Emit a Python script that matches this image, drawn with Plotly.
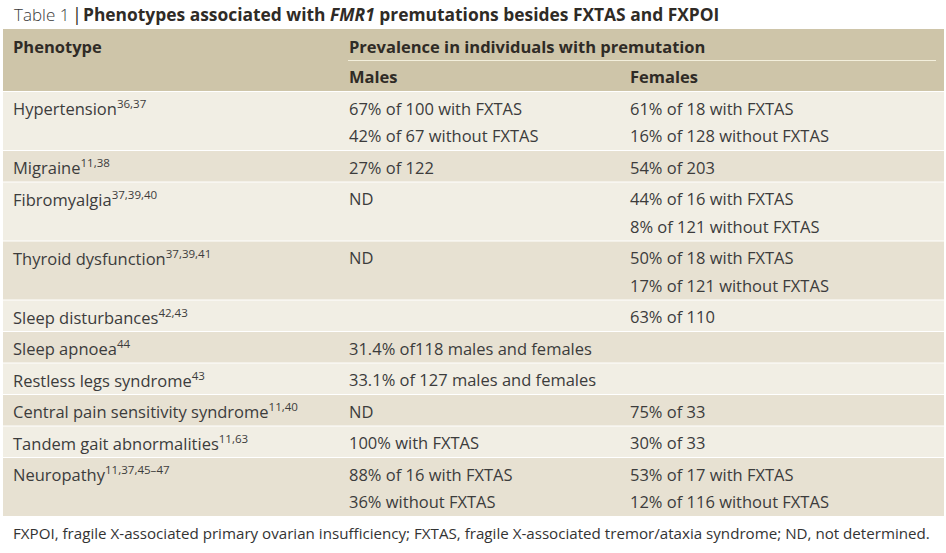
import plotly.graph_objects as go

# ---- data ----
title_prefix = "Table 1"
title_main = "Phenotypes associated with <i>FMR1</i> premutations besides FXTAS and FXPOI"
header_col1 = "Phenotype"
header_group = "Prevalence in individuals with premutation"
header_males = "Males"
header_females = "Females"

phenotypes = ["Hypertension", "Migraine", "Fibromyalgia", "Thyroid dysfunction",
              "Sleep disturbances", "Sleep apnoea", "Restless legs syndrome",
              "Central pain sensitivity syndrome", "Tandem gait abnormalities",
              "Neuropathy"]
refs = ["36,37", "11,38", "37,39,40", "37,39,41", "42,43", "44", "43",
        "11,40", "11,63", "11,37,45–47"]
males = [["67% of 100 with FXTAS", "42% of 67 without FXTAS"],
         ["27% of 122"],
         ["ND"],
         ["ND"],
         [""],
         ["31.4% of118 males and females"],
         ["33.1% of 127 males and females"],
         ["ND"],
         ["100% with FXTAS"],
         ["88% of 16 with FXTAS", "36% without FXTAS"]]
females = [["61% of 18 with FXTAS", "16% of 128 without FXTAS"],
           ["54% of 203"],
           ["44% of 16 with FXTAS", "8% of 121 without FXTAS"],
           ["50% of 18 with FXTAS", "17% of 121 without FXTAS"],
           ["63% of 110"],
           [""],
           [""],
           ["75% of 33"],
           ["30% of 33"],
           ["53% of 17 with FXTAS", "12% of 116 without FXTAS"]]
footnote = ("FXPOI, fragile X-associated primary ovarian insufficiency; FXTAS, fragile "
            "X-associated tremor/ataxia syndrome; ND, not determined.")

# ---- style ----
W, H = 946, 553
BODY_FONT = "Open Sans"
HEAD_FONT = "Open Sans"
TEXT_COLOR = "#3c3c3c"
HEAD_COLOR = "#2f2b26"
HEADER_FILL = "#cec5a9"
HEADER_LINE = "#f3efdc"
LIGHT_FILL = "#f1eee4"
DARK_FILL = "#e7e1d2"
TABLE_L, TABLE_R = 3, 944
COL_X = [11, 347, 628]
HEADER_TOP, HEADER_MID, HEADER_BOT = 29, 60, 91
ROW_TOP0 = 92
LINE_H = 27.5
PAD = 4
BODY_SIZE = 16.5
HEAD_SIZE = 16.5

shapes = []
annotations = []

def text(x, y, s, size=BODY_SIZE, color=TEXT_COLOR, family=BODY_FONT, weight=None):
    f = dict(size=size, color=color, family=family)
    if weight:
        f["weight"] = weight
    annotations.append(dict(x=x, y=y, xref="x", yref="y", text=s, showarrow=False,
                            xanchor="left", yanchor="middle", align="left", font=f))

# title
text(12, 14, title_prefix, size=17, color="#3a3a3a", weight=300)
text(70, 14, "|", size=18, color="#2f2b26")
text(81, 14, "<b>" + title_main + "</b>", size=17.4, color=HEAD_COLOR, family=HEAD_FONT)

# header
shapes.append(dict(type="rect", xref="x", yref="y", x0=TABLE_L, x1=TABLE_R,
                   y0=HEADER_TOP, y1=HEADER_BOT, fillcolor=HEADER_FILL, line_width=0,
                   layer="below"))
shapes.append(dict(type="line", xref="x", yref="y", x0=COL_X[1] + 1, x1=TABLE_R - 8,
                   y0=HEADER_MID + 0.5, y1=HEADER_MID + 0.5, line=dict(color=HEADER_LINE, width=1)))
text(COL_X[0], 46, "<b>" + header_col1 + "</b>", size=HEAD_SIZE, color=HEAD_COLOR, family=HEAD_FONT)
text(COL_X[1], 46, "<b>" + header_group + "</b>", size=HEAD_SIZE, color=HEAD_COLOR, family=HEAD_FONT)
text(COL_X[1], 76, "<b>" + header_males + "</b>", size=HEAD_SIZE, color=HEAD_COLOR, family=HEAD_FONT)
text(COL_X[2], 76, "<b>" + header_females + "</b>", size=HEAD_SIZE, color=HEAD_COLOR, family=HEAD_FONT)

# body rows
top = ROW_TOP0
for i, name in enumerate(phenotypes):
    n = max(len(males[i]), len(females[i]))
    h = LINE_H * n + PAD
    fill = LIGHT_FILL if i % 2 == 0 else DARK_FILL
    shapes.append(dict(type="rect", xref="x", yref="y", x0=TABLE_L, x1=TABLE_R,
                       y0=top, y1=top + h - 1, fillcolor=fill, line_width=0, layer="below"))
    y1 = top + 16
    text(COL_X[0], y1, name + "<sup>" + refs[i] + "</sup>")
    for k, s in enumerate(males[i]):
        if s:
            text(COL_X[1], y1 + k * LINE_H, s)
    for k, s in enumerate(females[i]):
        if s:
            text(COL_X[2], y1 + k * LINE_H, s)
    top += h

# footnote
text(11, 533, footnote, size=15.15, color="#333")

fig = go.Figure()
fig.update_layout(
    width=W, height=H, margin=dict(l=0, r=0, t=0, b=0),
    paper_bgcolor="white", plot_bgcolor="white",
    xaxis=dict(range=[0, W], visible=False, fixedrange=True),
    yaxis=dict(range=[H, 0], visible=False, fixedrange=True),
    shapes=shapes, annotations=annotations, showlegend=False,
)
fig.write_html("out.html", config=dict(displayModeBar=False),
               post_script="document.body.style.margin='0';document.body.style.overflow='hidden';")
